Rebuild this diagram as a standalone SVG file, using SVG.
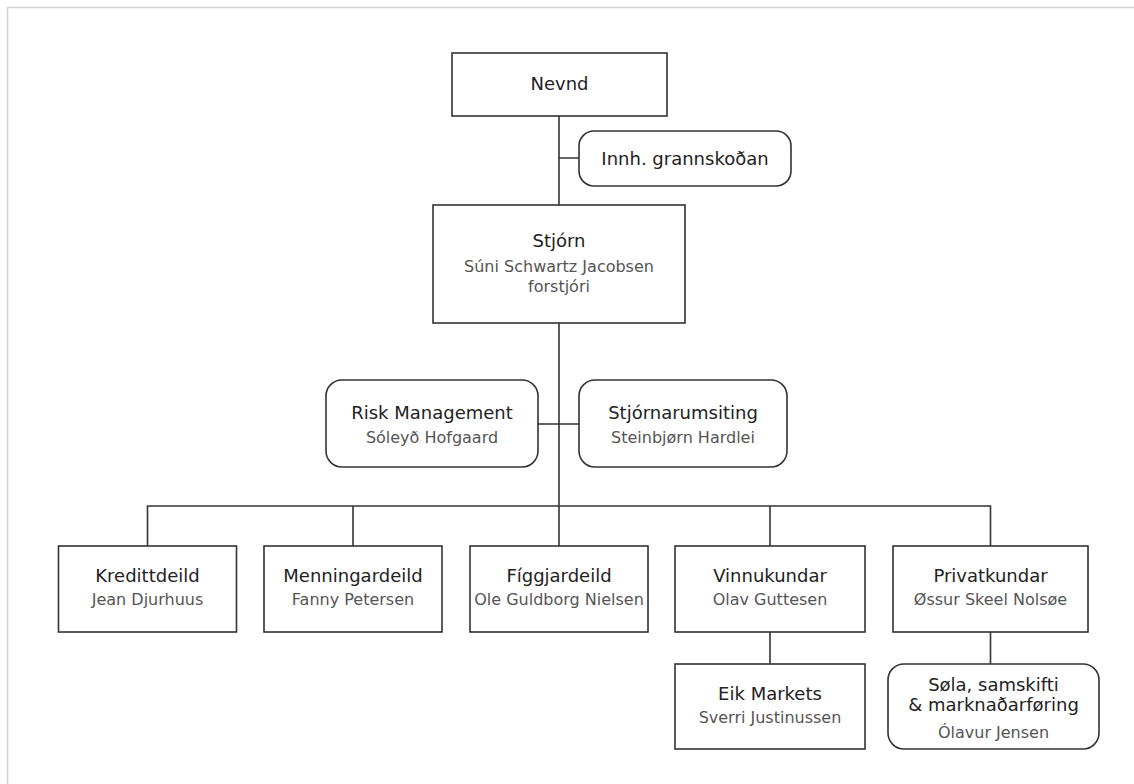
<svg xmlns="http://www.w3.org/2000/svg" width="1134" height="784" viewBox="0 0 1134 784">
<style>
.bx{fill:#fff;stroke:#333;stroke-width:1.6}
.ln{fill:none;stroke:#333;stroke-width:1.6}
.t{font-family:"DejaVu Sans",sans-serif;font-size:18px;fill:#222;text-anchor:middle}
.s{font-family:"DejaVu Sans",sans-serif;font-size:16px;fill:#555;text-anchor:middle}
</style>
<rect width="1134" height="784" fill="#fff"/>
<path d="M7.5,784V7.5H1134" fill="none" stroke="#d4d4d4" stroke-width="1.6"/>
<g id="connectors" class="ln">
<path d="M559,116V205M559,158H579M559,323V506M538,424H579"/>
<path d="M147.5,546V506H990.5V546M353,506V546M559,506V546M770,506V546"/>
<path d="M770,632V664M990.5,632V664"/>
</g>
<g id="nevnd"><rect class="bx" x="452" y="53" width="215" height="63"/><text class="t" x="559.5" y="90">Nevnd</text></g>
<g id="innh"><rect class="bx" x="579" y="131" width="212" height="55" rx="15"/><text class="t" x="685" y="165">Innh. grannskoðan</text></g>
<g id="stjorn"><rect class="bx" x="433" y="205" width="252" height="118"/><text class="t" x="559" y="247">Stjórn</text><text class="s" x="559" y="272">Súni Schwartz Jacobsen</text><text class="s" x="559" y="292">forstjóri</text></g>
<g id="risk"><rect class="bx" x="326" y="380" width="212" height="87" rx="16"/><text class="t" x="432" y="419">Risk Management</text><text class="s" x="432" y="443">Sóleyð Hofgaard</text></g>
<g id="stjornarumsiting"><rect class="bx" x="579" y="380" width="208" height="87" rx="16"/><text class="t" x="683" y="419">Stjórnarumsiting</text><text class="s" x="683" y="443">Steinbjørn Hardlei</text></g>
<g id="kreditt"><rect class="bx" x="58.5" y="546" width="178" height="86"/><text class="t" x="147.5" y="582">Kredittdeild</text><text class="s" x="147.5" y="605">Jean Djurhuus</text></g>
<g id="menning"><rect class="bx" x="264" y="546" width="178" height="86"/><text class="t" x="353" y="582">Menningardeild</text><text class="s" x="353" y="605">Fanny Petersen</text></g>
<g id="figgjar"><rect class="bx" x="470" y="546" width="178" height="86"/><text class="t" x="559" y="582">Fíggjardeild</text><text class="s" x="559" y="605">Ole Guldborg Nielsen</text></g>
<g id="vinnu"><rect class="bx" x="675" y="546" width="190" height="86"/><text class="t" x="770" y="582">Vinnukundar</text><text class="s" x="770" y="605">Olav Guttesen</text></g>
<g id="privat"><rect class="bx" x="893" y="546" width="195" height="86"/><text class="t" x="990.5" y="582">Privatkundar</text><text class="s" x="990.5" y="605">Øssur Skeel Nolsøe</text></g>
<g id="eik"><rect class="bx" x="675" y="664" width="190" height="85"/><text class="t" x="770" y="700">Eik Markets</text><text class="s" x="770" y="723">Sverri Justinussen</text></g>
<g id="sola"><rect class="bx" x="888" y="664" width="211" height="85" rx="16"/><text class="t" x="993.5" y="691">Søla, samskifti</text><text class="t" x="993.5" y="711">&amp; marknaðarføring</text><text class="s" x="993.5" y="738">Ólavur Jensen</text></g>
</svg>
